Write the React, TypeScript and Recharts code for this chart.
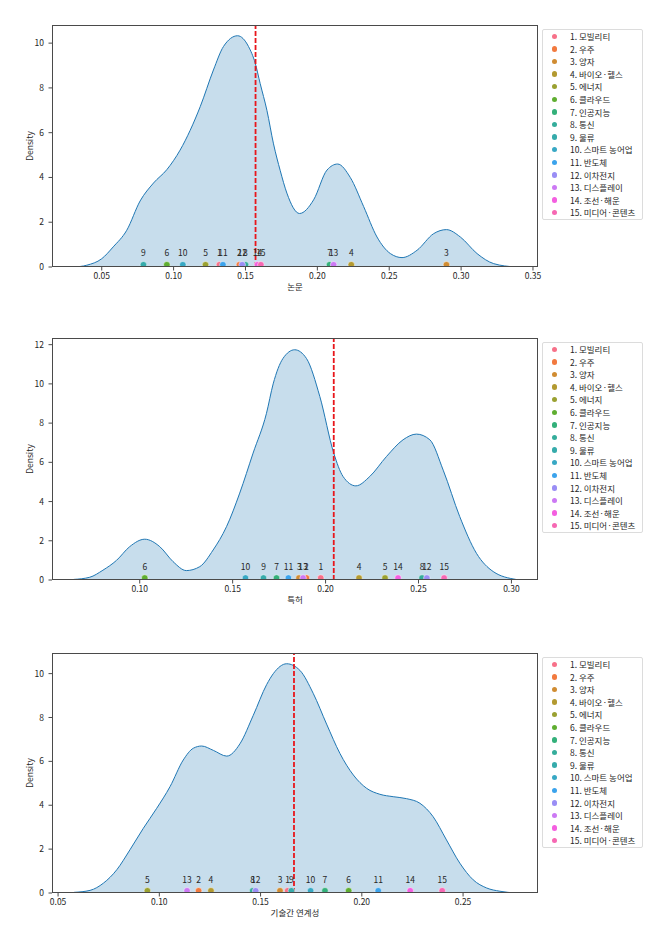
import {
  ComposedChart, Area, Scatter, XAxis, YAxis, ZAxis, ReferenceLine, LabelList, Cell,
} from 'recharts';

const FONT = "'Noto Sans CJK KR', 'Noto Sans', sans-serif";
const TEXT = '#262626';
const SPINE = '#4a4a4a';

// categories / colours (shared by all three panels)
const categories = [
  '1. 모빌리티', '2. 우주', '3. 양자', '4. 바이오·헬스', '5. 에너지',
  '6. 클라우드', '7. 인공지능', '8. 통신', '9. 물류', '10. 스마트 농어업',
  '11. 반도체', '12. 이차전지', '13. 디스플레이', '14. 조선·해운', '15. 미디어·콘텐츠',
];
const pointIds = ['1', '2', '3', '4', '5', '6', '7', '8', '9', '10', '11', '12', '13', '14', '15'];
const colors = [
  '#f77189', '#f27a3f', '#d08c32', '#b39a31', '#9aa131',
  '#5fae31', '#33b07a', '#35ad9b', '#36abab', '#38a8c4',
  '#3ba3ec', '#9a8ef5', '#cc79f4', '#f45fe0', '#f668b3',
];

// 논문
const paperKdeX = [0.0307, 0.0396, 0.05, 0.058, 0.0674, 0.0767, 0.086, 0.0953, 0.1045, 0.1185, 0.1277, 0.1347, 0.1445, 0.1521, 0.1568, 0.1602, 0.1649, 0.1695, 0.1742, 0.1788, 0.1876, 0.1974, 0.2067, 0.2141, 0.2229, 0.2322, 0.2415, 0.2508, 0.2589, 0.2694, 0.2809, 0.2898, 0.2995, 0.3111, 0.3227, 0.338];
const paperKdeY = [0, 0.08, 0.37, 0.9, 1.64, 2.95, 3.75, 4.35, 5.22, 7.16, 8.8, 9.85, 10.33, 9.85, 9.1, 8.2, 7.0, 5.5, 4.3, 3.3, 2.39, 3.0, 4.33, 4.6, 4.0, 2.7, 1.34, 0.6, 0.42, 0.75, 1.49, 1.67, 1.34, 0.6, 0.15, 0];
const paperValues = [0.1319, 0.1458, 0.2898, 0.2236, 0.1222, 0.0953, 0.2085, 0.15, 0.079, 0.1064, 0.1343, 0.1477, 0.2113, 0.1584, 0.1607];
const paperLine = 0.157;
const paperXTicks = [0.05, 0.1, 0.15, 0.2, 0.25, 0.3, 0.35];
const paperYTicks = [0, 2, 4, 6, 8, 10];

// 특허
const patentKdeX = [0.0645, 0.0731, 0.0802, 0.0875, 0.0946, 0.1027, 0.1108, 0.1179, 0.1251, 0.1323, 0.1395, 0.1467, 0.1538, 0.161, 0.1682, 0.1718, 0.1771, 0.1834, 0.1897, 0.1969, 0.2044, 0.2094, 0.2163, 0.2238, 0.2328, 0.2417, 0.2489, 0.2561, 0.2633, 0.2722, 0.2812, 0.2902, 0.3024];
const patentKdeY = [0.03, 0.14, 0.5, 1.0, 1.7, 2.08, 1.7, 0.94, 0.48, 0.68, 1.53, 2.72, 4.43, 6.47, 8.5, 10.0, 11.3, 11.74, 11.3, 9.36, 6.47, 5.28, 4.8, 5.28, 6.3, 7.15, 7.44, 7.15, 5.6, 3.23, 1.36, 0.43, 0.03];
const patentValues = [0.1974, 0.1897, 0.1857, 0.218, 0.232, 0.1027, 0.1736, 0.2519, 0.1666, 0.1569, 0.18, 0.2545, 0.1879, 0.239, 0.2638];
const patentLine = 0.2044;
const patentXTicks = [0.1, 0.15, 0.2, 0.25, 0.3];
const patentYTicks = [0, 2, 4, 6, 8, 10, 12];

// 기술간 연계성
const linkKdeX = [0.0579, 0.0658, 0.0724, 0.079, 0.0855, 0.0921, 0.0987, 0.1053, 0.1118, 0.1168, 0.1209, 0.1267, 0.1333, 0.1398, 0.1464, 0.153, 0.1563, 0.1629, 0.1694, 0.176, 0.1826, 0.1892, 0.1958, 0.2024, 0.2089, 0.2155, 0.2221, 0.2287, 0.2352, 0.2418, 0.2484, 0.255, 0.2616, 0.2682, 0.2761];
const linkKdeY = [0.03, 0.12, 0.45, 1.06, 1.97, 2.95, 3.86, 4.85, 6.06, 6.6, 6.7, 6.5, 6.24, 6.8, 8.1, 9.5, 10.0, 10.45, 10.15, 9.1, 7.7, 6.36, 5.38, 4.77, 4.5, 4.39, 4.3, 4.09, 3.48, 2.42, 1.36, 0.6, 0.23, 0.08, 0];
const linkValues = [0.1634, 0.1194, 0.1596, 0.1255, 0.0941, 0.1935, 0.1818, 0.1461, 0.1652, 0.1747, 0.2081, 0.1476, 0.1137, 0.2239, 0.2397];
const linkLine = 0.1665;
const linkXTicks = [0.05, 0.1, 0.15, 0.2, 0.25];
const linkYTicks = [0, 2, 4, 6, 8, 10];

// dots sit just above the baseline
const POINT_Y = 0.1;

const panels = [
  { name: '논문', kdeX: paperKdeX, kdeY: paperKdeY, values: paperValues, line: paperLine, xDomain: [0.0154, 0.3535], yMax: 10.81, xTicks: paperXTicks, yTicks: paperYTicks, top: 0, bottom: 10 },
  { name: '특허', kdeX: patentKdeX, kdeY: patentKdeY, values: patentValues, line: patentLine, xDomain: [0.0528, 0.3143], yMax: 12.34, xTicks: patentXTicks, yTicks: patentYTicks, top: 313, bottom: 10 },
  { name: '기술간 연계성', kdeX: linkKdeX, kdeY: linkKdeY, values: linkValues, line: linkLine, xDomain: [0.047, 0.287], yMax: 10.94, xTicks: linkXTicks, yTicks: linkYTicks, top: 628, bottom: 12 },
];

const CHART_W = 662;
const CHART_H = 300;
const PLOT_LEFT = 52;
const PLOT_RIGHT = 538;
const MARGIN_TOP = 25;
const X_AXIS_H = 23;

const tickStyle = { fontSize: 8.5, fill: TEXT, fontFamily: FONT };

const DensityLabel = ({ viewBox }: any) => {
  const cx = 29;
  const cy = viewBox.y + viewBox.height / 2;
  return (
    <text x={cx} y={cy} transform={`rotate(-90 ${cx} ${cy})`} textAnchor="middle"
      dominantBaseline="central" fontSize={8.5} fill={TEXT} fontFamily={FONT}>
      Density
    </text>
  );
};

const ROW_H = 12.6;

const Legend = ({ top }: { top: number }) => (
  <div
    style={{
      position: 'absolute', left: 542, top, width: 101, height: 191, boxSizing: 'border-box',
      border: '1px solid #dcdcdc', borderRadius: 2, background: '#fff',
      fontFamily: FONT, fontSize: 8.5, color: TEXT,
    }}
  >
    {categories.map((c, i) => (
      <div key={c} style={{ position: 'absolute', left: 0, top: i * ROW_H, width: 99, height: ROW_H }}>
        <span style={{
          position: 'absolute', left: 8.5, top: (ROW_H - 5.5) / 2, width: 5.5, height: 5.5,
          borderRadius: '50%', background: colors[i],
        }} />
        <span style={{
          position: 'absolute', left: 27, top: 0, lineHeight: `${ROW_H}px`, whiteSpace: 'nowrap',
        }}>{c}</span>
      </div>
    ))}
  </div>
);

const Panel = ({ p }: { p: typeof panels[number] }) => {
  const kde = p.kdeX.map((x, i) => ({ x, y: p.kdeY[i] }));
  const pts = p.values.map((x, i) => ({ x, y: POINT_Y, id: pointIds[i] }));
  const plotH = CHART_H - MARGIN_TOP - p.bottom - X_AXIS_H;
  return (
    <div style={{ position: 'absolute', left: 0, top: p.top, width: CHART_W, height: CHART_H }}>
      <ComposedChart width={CHART_W} height={CHART_H} data={kde}
        margin={{ top: MARGIN_TOP, right: CHART_W - PLOT_RIGHT, left: 0, bottom: p.bottom }}>
        <XAxis dataKey="x" type="number" domain={p.xDomain} allowDataOverflow ticks={p.xTicks}
          tickFormatter={(v: number) => v.toFixed(2)} tick={tickStyle} tickSize={3.5} tickMargin={2}
          axisLine={false} tickLine={{ stroke: SPINE }} height={X_AXIS_H} interval={0}
          label={{ value: p.name, position: 'insideBottom', offset: 0, fontSize: 8.5, fill: TEXT, fontFamily: FONT }} />
        <YAxis dataKey="y" type="number" domain={[0, p.yMax]} allowDataOverflow ticks={p.yTicks}
          tick={tickStyle} tickSize={3.5} tickMargin={4.5} axisLine={false} tickLine={{ stroke: SPINE }}
          width={PLOT_LEFT} interval={0} label={<DensityLabel />} />
        <ZAxis range={[34, 34]} />
        <Area dataKey="y" type="monotone" stroke="#1f77b4" strokeWidth={1} fill="#1f77b4" fillOpacity={0.25}
          isAnimationActive={false} dot={false} activeDot={false} />
        <Scatter data={pts} dataKey="y" shape="circle" isAnimationActive={false}>
          {pts.map((d, i) => (
            <Cell key={d.id} fill={colors[i]} stroke="#fff" strokeWidth={0.5} />
          ))}
          <LabelList dataKey="id" position="top" offset={5} style={{ fontSize: 8.5, fill: TEXT, fontFamily: FONT }} />
        </Scatter>
        <ReferenceLine x={p.line} stroke="#e8161b" strokeWidth={1.8} strokeDasharray="5 2" />
      </ComposedChart>
      <div style={{
        position: 'absolute', left: PLOT_LEFT, top: MARGIN_TOP, width: PLOT_RIGHT - PLOT_LEFT, height: plotH,
        border: `1px solid ${SPINE}`, boxSizing: 'border-box', pointerEvents: 'none',
      }} />
      <Legend top={MARGIN_TOP + 4} />
    </div>
  );
};

export default function App() {
  return (
    <div style={{ position: 'relative', width: CHART_W, height: 935, background: '#fff', fontFamily: FONT }}>
      <style>{'body { margin: 0; }'}</style>
      {panels.map(p => <Panel key={p.name} p={p} />)}
    </div>
  );
}
